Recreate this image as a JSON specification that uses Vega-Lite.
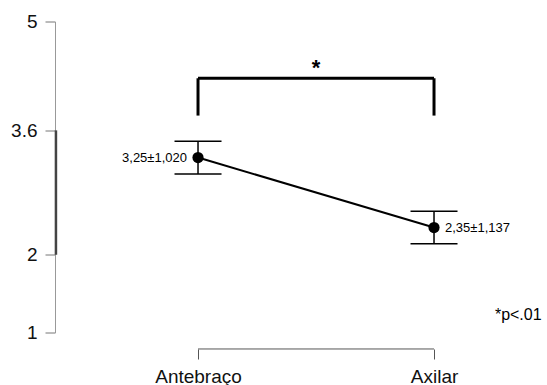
{
  "$schema": "https://vega.github.io/schema/vega-lite/v6.json",
  "autosize": "none",
  "width": 472,
  "height": 311,
  "padding": {"left": 55, "top": 21.5, "right": 20, "bottom": 52.5},
  "background": "white",
  "config": {
    "view": {"stroke": null},
    "font": "Liberation Sans",
    "text": {"font": "Liberation Sans"},
    "axis": {"labelFont": "Liberation Sans", "labelColor": "#111", "grid": false, "title": null}
  },
  "datasets": {
    "main": [
      {"grupo": "Antebraço", "pos": 1, "media": 3.25, "lo": 3.04, "hi": 3.46, "rotulo": "3,25±1,020"},
      {"grupo": "Axilar", "pos": 2, "media": 2.35, "lo": 2.14, "hi": 2.56, "rotulo": "2,35±1,137"}
    ],
    "bracket": [
      {"pos": 1, "media": 3.79, "topo": 4.27},
      {"pos": 2, "media": 3.79, "topo": 4.27}
    ],
    "barra": [{"pos": 1, "pos2": 2, "media": 4.27}],
    "eixox": [{"pos": 1, "pos2": 2, "media": 0.788}],
    "eixoy": [{"pos": 0.398, "media": 2, "media2": 3.6}],
    "estrela": [{"pos": 1.5, "media": 4.28, "txt": "*"}],
    "nota": [{"pos": 2.258, "media": 1.16, "txt": "*p<.01"}]
  },
  "encoding": {
    "x": {
      "field": "pos", "type": "quantitative",
      "scale": {"domain": [0.394, 2.394], "nice": false, "zero": false},
      "axis": {
        "values": [1, 2], "domain": false, "offset": 16.5, "tickSize": 10,
        "tickColor": "#555", "tickWidth": 1,
        "labelExpr": "datum.value == 1 ? 'Antebraço' : 'Axilar'",
        "labelFontSize": 19, "labelPadding": 8, "labelFlush": false, "labelOverlap": false
      }
    },
    "y": {
      "field": "media", "type": "quantitative",
      "scale": {"domain": [1, 5], "nice": false, "zero": false},
      "axis": {
        "values": [1, 2, 3.6, 5], "domain": true, "domainColor": "#999", "domainWidth": 1,
        "tickSize": 10, "tickColor": "#777", "tickWidth": 1,
        "labelExpr": "datum.value + ''", "labelFontSize": 19, "labelPadding": 8, "labelFlush": false
      }
    }
  },
  "layer": [
    {
      "data": {"name": "eixoy"},
      "mark": {"type": "rule", "color": "#444", "strokeWidth": 2.5},
      "encoding": {"y2": {"field": "media2"}}
    },
    {
      "data": {"name": "eixox"},
      "mark": {"type": "rule", "color": "#555", "strokeWidth": 1},
      "encoding": {"x2": {"field": "pos2"}}
    },
    {
      "data": {"name": "main"},
      "mark": {"type": "rule", "color": "black", "strokeWidth": 1.5},
      "encoding": {"y": {"field": "lo", "type": "quantitative"}, "y2": {"field": "hi"}}
    },
    {
      "data": {"name": "main"},
      "mark": {"type": "tick", "orient": "horizontal", "color": "black", "size": 47, "thickness": 1.5, "opacity": 1},
      "encoding": {"y": {"field": "lo", "type": "quantitative"}}
    },
    {
      "data": {"name": "main"},
      "mark": {"type": "tick", "orient": "horizontal", "color": "black", "size": 47, "thickness": 1.5, "opacity": 1},
      "encoding": {"y": {"field": "hi", "type": "quantitative"}}
    },
    {
      "data": {"name": "main"},
      "mark": {"type": "line", "color": "black", "strokeWidth": 2}
    },
    {
      "data": {"name": "main"},
      "mark": {"type": "circle", "color": "black", "size": 125, "opacity": 1}
    },
    {
      "data": {"name": "main"},
      "transform": [{"filter": "datum.pos == 1"}],
      "mark": {"type": "text", "align": "right", "baseline": "middle", "dx": -11, "fontSize": 13, "color": "black"},
      "encoding": {"text": {"field": "rotulo"}}
    },
    {
      "data": {"name": "main"},
      "transform": [{"filter": "datum.pos == 2"}],
      "mark": {"type": "text", "align": "left", "baseline": "middle", "dx": 11, "fontSize": 13, "color": "black"},
      "encoding": {"text": {"field": "rotulo"}}
    },
    {
      "data": {"name": "bracket"},
      "mark": {"type": "rule", "color": "black", "strokeWidth": 3},
      "encoding": {"y2": {"field": "topo"}}
    },
    {
      "data": {"name": "barra"},
      "mark": {"type": "rule", "color": "black", "strokeWidth": 3},
      "encoding": {"x2": {"field": "pos2"}}
    },
    {
      "data": {"name": "estrela"},
      "mark": {"type": "text", "align": "center", "baseline": "alphabetic", "fontSize": 22, "fontWeight": "bold", "color": "black", "dy": -2},
      "encoding": {"text": {"field": "txt"}}
    },
    {
      "data": {"name": "nota"},
      "mark": {"type": "text", "align": "left", "baseline": "alphabetic", "fontSize": 16, "color": "black"},
      "encoding": {"text": {"field": "txt"}}
    }
  ]
}
